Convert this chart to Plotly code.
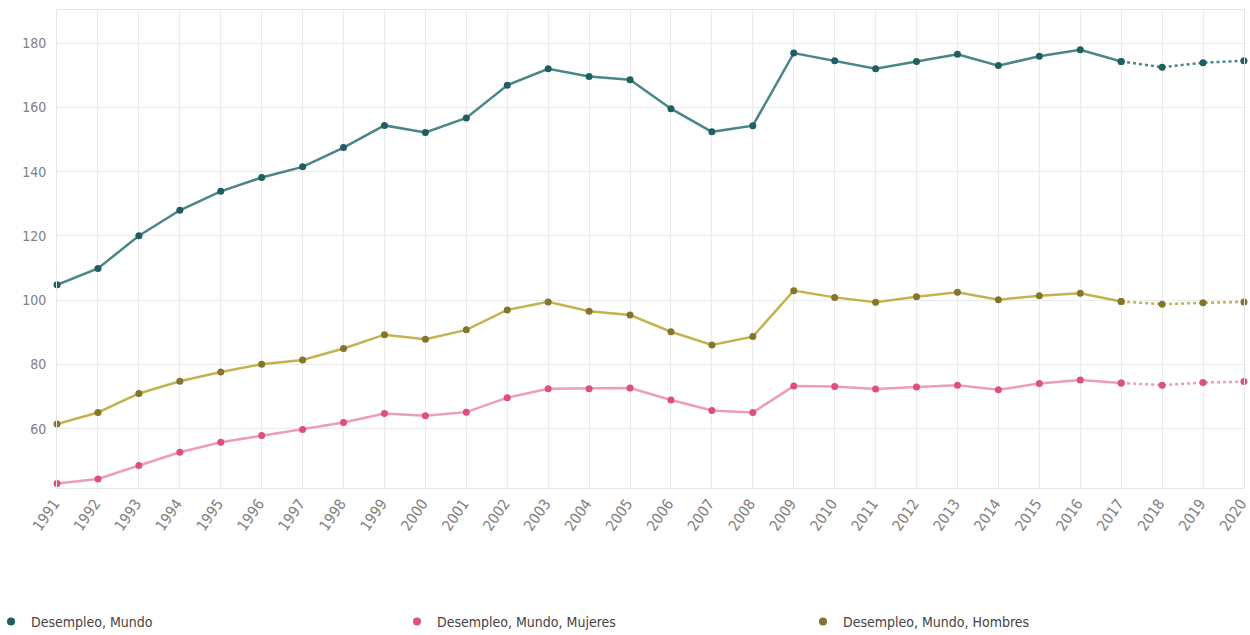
import plotly.graph_objects as go

years = list(range(1991, 2021))

mundo = [104.8, 109.9, 120.1, 128.0, 133.9, 138.2, 141.5, 147.5, 154.4, 152.2,
         156.7, 166.9, 172.0, 169.6, 168.6, 159.6, 152.4, 154.3, 176.9, 174.5,
         172.0, 174.3, 176.5, 173.0, 175.9, 177.9, 174.3, 172.5, 173.9, 174.5]

mujeres = [43.0, 44.4, 48.6, 52.7, 55.8, 57.9, 59.8, 62.0, 64.8, 64.1,
           65.2, 69.7, 72.5, 72.5, 72.7, 69.0, 65.7, 65.1, 73.3, 73.2,
           72.4, 73.0, 73.6, 72.2, 74.1, 75.2, 74.3, 73.6, 74.4, 74.7]

hombres = [61.5, 65.1, 71.0, 74.8, 77.7, 80.1, 81.4, 85.0, 89.3, 87.9,
           90.8, 97.0, 99.5, 96.6, 95.4, 90.2, 86.1, 88.7, 103.0, 100.9,
           99.4, 101.1, 102.5, 100.2, 101.4, 102.2, 99.6, 98.8, 99.2, 99.5]

last_actual_year = 2017
y_ticks = [60, 80, 100, 120, 140, 160, 180]

series = [
    ("Desempleo, Mundo", mundo, "#4a8588", "#1f5e63"),
    ("Desempleo, Mundo, Mujeres", mujeres, "#ef9bbb", "#dc4f86"),
    ("Desempleo, Mundo, Hombres", hombres, "#c4b24e", "#83742e"),
]

fig = go.Figure()
cut = years.index(last_actual_year)

for name, vals, lc, mc in series:
    fig.add_trace(go.Scatter(
        x=years[:cut + 1], y=vals[:cut + 1], mode="lines+markers",
        line=dict(color=lc, width=2.5), marker=dict(color=mc, size=7),
        showlegend=False, name=name, hoverinfo="x+y+name", cliponaxis=False))
    fig.add_trace(go.Scatter(
        x=years[cut:], y=vals[cut:], mode="lines+markers",
        line=dict(color=lc, width=2.5, dash="dot"), marker=dict(color=mc, size=7),
        showlegend=False, name=name, hoverinfo="x+y+name", cliponaxis=False))

for name, vals, lc, mc in series:
    fig.add_trace(go.Scatter(
        x=[None], y=[None], mode="markers", name=name,
        marker=dict(color=mc, size=8)))

fig.update_layout(
    width=1250, height=635,
    margin=dict(l=57, r=6, t=10, b=147, autoexpand=False),
    paper_bgcolor="white", plot_bgcolor="white",
    font=dict(family="DejaVu Sans Condensed, DejaVu Sans", color="#777777", size=14),
    xaxis=dict(
        range=[1990.999, 2020.001], tickmode="array", tickvals=years,
        ticktext=[str(y) for y in years], tickangle=-55,
        showgrid=True, gridcolor="#ebebeb", gridwidth=1,
        showline=True, linecolor="#e6e6e6", mirror=True, zeroline=False,
        tickfont=dict(size=15, color="#808080"), ticks="", automargin=False,
        ticklabeloverflow="allow", ticklabelshift=-3,
    ),
    yaxis=dict(
        range=[41.6, 190.3], tickmode="array", tickvals=y_ticks,
        showgrid=True, gridcolor="#ebebeb", gridwidth=1,
        showline=True, linecolor="#e6e6e6", mirror=True, zeroline=False,
        tickfont=dict(size=14, color="#808080"), ticks="", automargin=False,
        ticklabelstandoff=7,
    ),
    legend=dict(
        orientation="h",
        x=-0.0556, y=-0.28, xanchor="left", yanchor="middle",
        font=dict(size=14, color="#444444", family="DejaVu Sans Condensed, DejaVu Sans"),
        entrywidth=361, entrywidthmode="pixels", itemwidth=30,
        bgcolor="rgba(0,0,0,0)",
    ),
    hovermode="closest",
)

fig.write_html("out.html", config={"displayModeBar": False},
               post_script="document.body.style.margin='0';")
